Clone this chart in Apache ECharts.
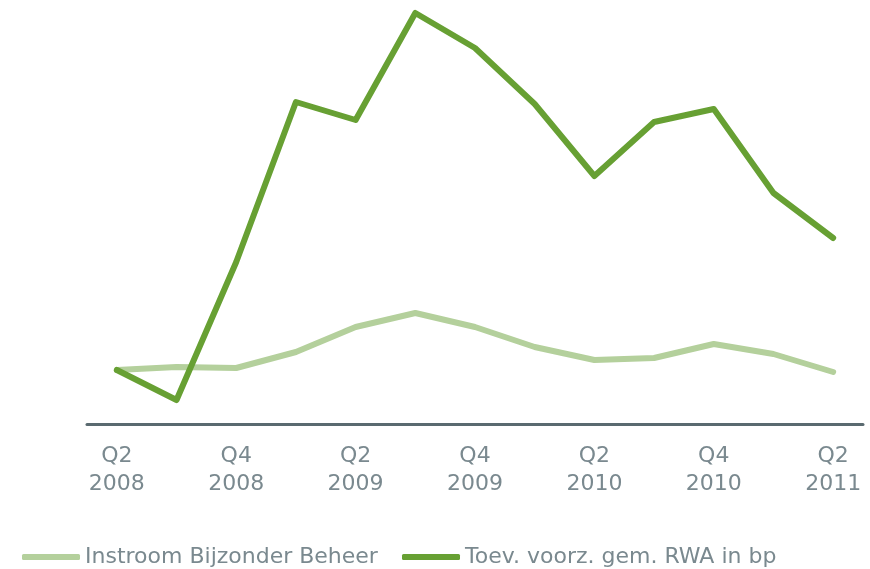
<!DOCTYPE html>
<html>
<head>
<meta charset="utf-8">
<script src="https://cdn.jsdelivr.net/npm/echarts@6/dist/echarts.min.js"></script>
<style>
  html, body { margin: 0; padding: 0; background: #fff; }
  #chart { width: 870px; height: 569px; }
</style>
</head>
<body>
<div id="chart"></div>
<script>
// Quarterly periods, Q2 2008 through Q2 2011
const quarters = [
  'Q2\n2008', 'Q3\n2008', 'Q4\n2008', 'Q1\n2009', 'Q2\n2009', 'Q3\n2009', 'Q4\n2009',
  'Q1\n2010', 'Q2\n2010', 'Q3\n2010', 'Q4\n2010', 'Q1\n2011', 'Q2\n2011'
];

const seriesNames = ['Instroom Bijzonder Beheer', 'Toev. voorz. gem. RWA in bp'];

// Inflow into special management (relative scale)
const instroom = [54, 57, 56, 72, 97, 111, 97, 77, 64, 66, 80, 70, 52];

// Additions to provisions over average RWA (relative scale)
const toevoeging = [54, 24, 162, 322, 304, 411, 376, 320, 248, 302, 315, 231, 186];

const textGray = '#7a898f';
const lightGreen = '#b4d09c';
const darkGreen = '#67a033';
const fontFamily = '"DejaVu Sans", Verdana, sans-serif';

const chart = echarts.init(document.getElementById('chart'));

const legendBase = {
  orient: 'horizontal',
  top: 546,
  padding: 0,
  itemWidth: 58,
  itemHeight: 6,
  itemGap: 12,
  icon: 'roundRect',
  textStyle: { color: textGray, fontSize: 22, fontFamily: fontFamily }
};

chart.setOption({
  animation: false,
  grid: { left: 87, right: 7, top: 4, bottom: 145 },
  legend: [
    Object.assign({}, legendBase, { left: 22, data: [seriesNames[0]] }),
    Object.assign({}, legendBase, { left: 402, data: [seriesNames[1]] })
  ],
  xAxis: {
    type: 'category',
    data: quarters,
    boundaryGap: true,
    axisLine: { show: true, lineStyle: { color: '#5a6a70', width: 3 } },
    axisTick: { show: false },
    axisLabel: {
      interval: 1,
      color: textGray,
      fontSize: 22,
      lineHeight: 28,
      margin: 18,
      fontFamily: fontFamily
    },
    splitLine: { show: false }
  },
  yAxis: {
    type: 'value',
    min: 0,
    max: 420,
    show: false,
    splitLine: { show: false }
  },
  series: [
    {
      name: seriesNames[0],
      type: 'line',
      data: instroom,
      symbol: 'none',
      itemStyle: { color: lightGreen },
      lineStyle: { color: lightGreen, width: 6, cap: 'round', join: 'round' },
      z: 2
    },
    {
      name: seriesNames[1],
      type: 'line',
      data: toevoeging,
      symbol: 'none',
      itemStyle: { color: darkGreen },
      lineStyle: { color: darkGreen, width: 6, cap: 'round', join: 'round' },
      z: 3
    }
  ]
});
</script>
</body>
</html>
